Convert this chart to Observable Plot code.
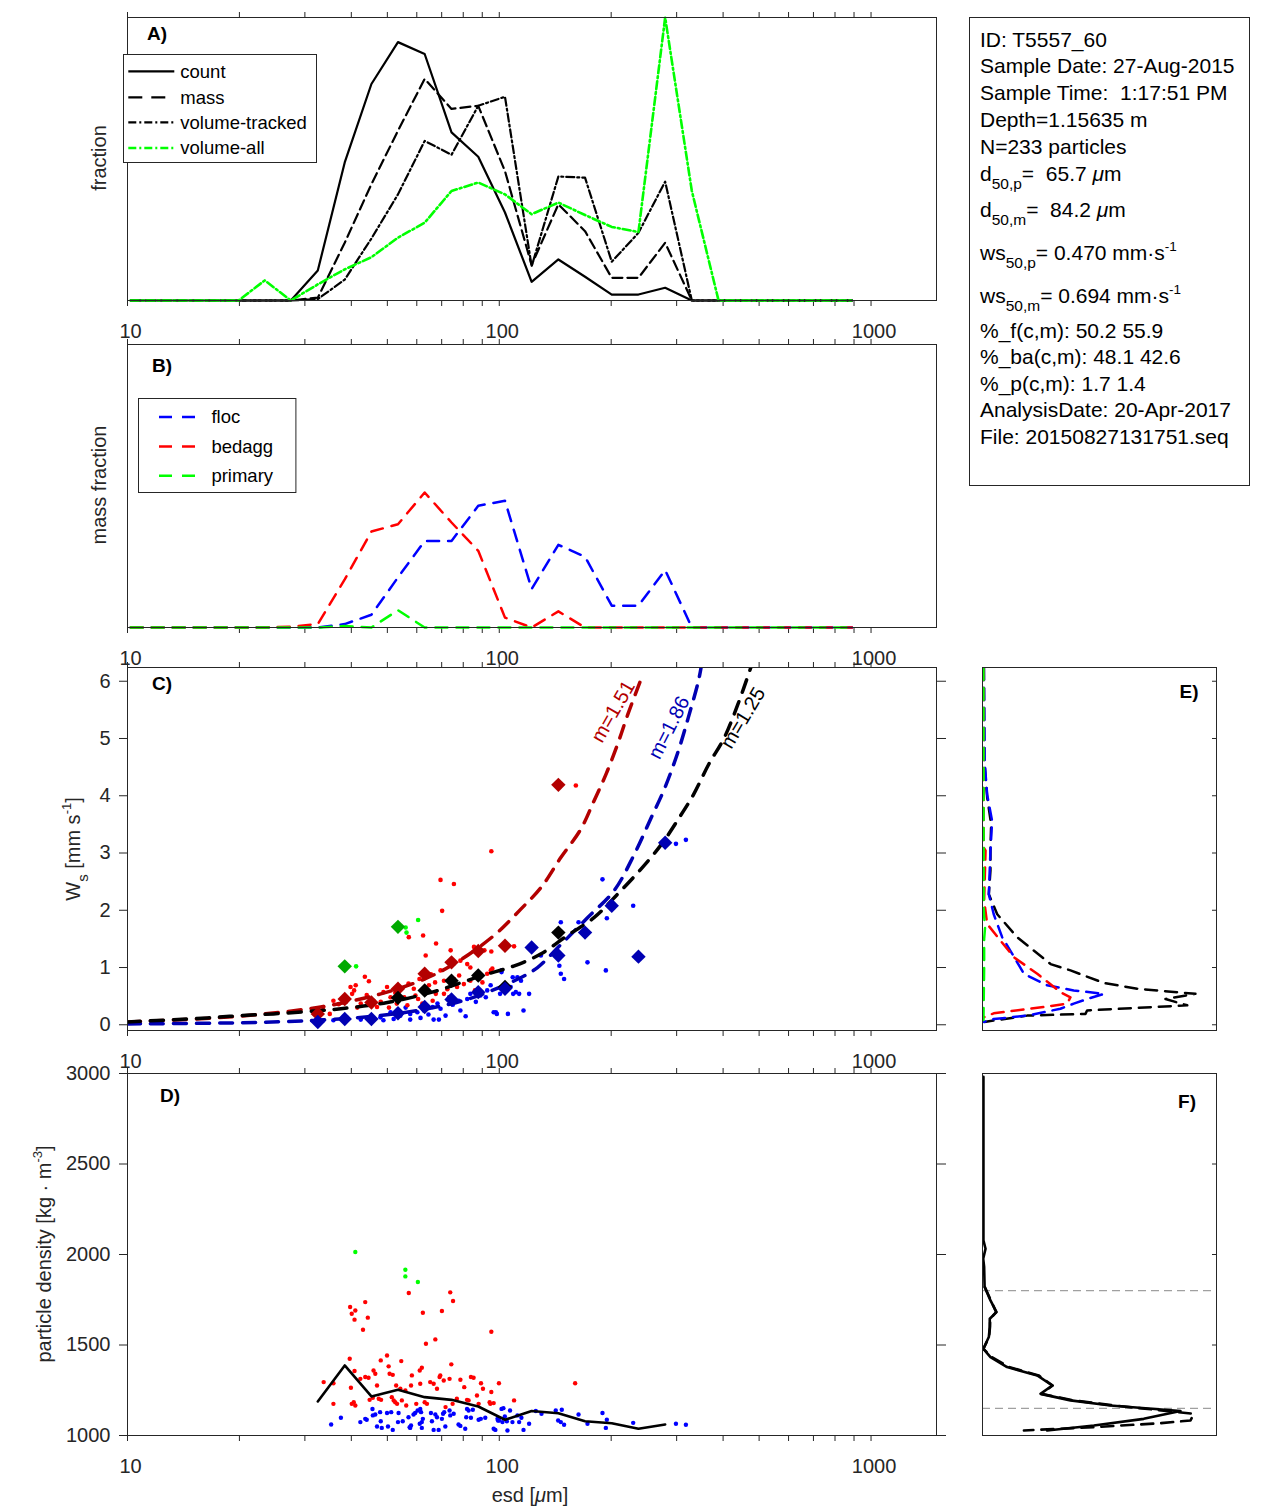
<!DOCTYPE html>
<html>
<head>
<meta charset="utf-8">
<script src="https://cdn.jsdelivr.net/npm/d3@7"></script>
<script src="https://cdn.jsdelivr.net/npm/@observablehq/plot@0.6"></script>
<style>
html,body{margin:0;padding:0;background:#fff;}
#fig{position:relative;width:1270px;height:1511px;overflow:hidden;background:#fff;font-family:"Liberation Sans",Arial,Helvetica,sans-serif;color:#262626;}
.panel{position:absolute;}
.panel svg{overflow:visible;display:block;}
.t{position:absolute;white-space:pre;line-height:24px;height:24px;font-size:21px;color:#000;}
.t sub{font-size:15.5px;vertical-align:-8px;line-height:0;}
.t sup{font-size:13.5px;vertical-align:9px;line-height:0;}
.rot{position:absolute;white-space:pre;font-size:20px;line-height:24px;color:#262626;transform:translate(-50%,-50%) rotate(-90deg);}
.rot sub{font-size:15px;vertical-align:-8px;line-height:0;}
.rot sup{font-size:13px;vertical-align:9px;line-height:0;}
.plab{position:absolute;font-weight:bold;font-size:19px;color:#000;transform:translate(-50%,-50%);white-space:pre;}
.hlab{position:absolute;font-size:20px;color:#262626;transform:translate(-50%,-50%);white-space:pre;}
#info{position:absolute;left:969px;top:17px;width:281px;height:469px;border:1px solid #262626;box-sizing:border-box;background:#fff;}
</style>
</head>
<body>
<div id="fig"></div>
<script>
// ---------------- DATA ----------------
// size-bin centres (esd, µm)
const binEsd = [10.2,12.1,14.3,16.9,19.9,23.4,27.5,32.5,38.4,45.3,53.4,63.0,74.4,87.8,103.6,122.2,144.2,170.1,200.7,236.8,279.4,329.6,388.9,458.8,541.3,638.7,753.5,889.0];
// panel A fractions (relative units)
const countFrac      = [0,0,0,0,0,0,0,0.106,0.488,0.765,0.913,0.871,0.594,0.508,0.311,0.066,0.145,0.084,0.021,0.021,0.045,0,0,0,0,0,0,0];
const massFrac       = [0,0,0,0,0,0,0,0.010,0.204,0.411,0.600,0.783,0.677,0.688,0.457,0.125,0.340,0.245,0.080,0.080,0.204,0,0,0,0,0,0,0];
const volTrackedFrac = [0,0,0,0,0,0,0,0.005,0.074,0.219,0.375,0.564,0.515,0.688,0.720,0.121,0.438,0.434,0.137,0.239,0.420,0,0,0,0,0,0,0];
const volAllFrac     = [0,0,0,0,0,0.071,0,0.057,0.110,0.153,0.222,0.275,0.387,0.417,0.375,0.305,0.346,0.302,0.260,0.242,1.000,0.387,0,0,0,0,0,0];
// panel B mass fractions
const flocMass    = [0,0,0,0,0,0,0,0,0.012,0.045,0.177,0.306,0.306,0.430,0.448,0.136,0.292,0.250,0.077,0.077,0.203,0,0,0,0,0,0,0];
const bedaggMass  = [0,0,0,0,0,0,0.003,0.012,0.170,0.339,0.365,0.477,0.371,0.271,0.035,0,0.057,0,0,0,0,0,0,0,0,0,0,0];
const primaryMass = [0,0,0,0,0,0,0,0,0.005,0,0.061,0,0,0,0,0,0,0,0,0,0,0,0,0,0,0,0,0];

// panel C: settling velocity (mm/s) per particle  [esd, ws]
const cRed = [[95.2,3.03],[69.5,2.53],[75.5,2.46],[70.2,1.99],[57.1,1.53],[62.4,1.56],[67.6,1.42],[63.4,1.21],[85.5,1.36],[91.2,1.30],[95.2,1.28],[82.0,1.06],[74.0,1.30],[75.5,0.80],[69.5,0.95],[71.0,0.77],[67.2,0.74],[64.7,0.69],[64.0,0.60],[67.5,0.54],[58.9,0.63],[59.5,0.51],[55.5,0.48],[49.9,0.66],[48.8,0.57],[51.0,0.48],[45.9,0.42],[46.9,0.31],[43.5,0.84],[44.6,0.76],[39.8,0.66],[41.1,0.69],[40.7,0.60],[40.2,0.54],[38.5,0.45],[35.8,0.42],[33.6,0.31],[35.0,0.19],[42.4,0.37],[53.0,0.37],[56.6,0.34],[62.1,0.37],[66.2,0.42],[71.0,0.54],[77.0,0.66],[80.3,0.71],[83.6,0.77],[88.1,0.80],[92.8,0.89],[83.6,1.00],[78.6,1.12],[95.8,0.98],[160.7,4.18],[109.6,1.37],[94.9,0.95],[90.1,0.74],[52.5,0.56],[60.5,0.45],[65.5,0.88],[72.5,0.62],[78.0,0.86],[86.0,0.60],[44.0,0.52],[48.0,0.40],[57.0,0.72],[50.5,0.30],[61.0,0.80],[73.5,0.48],[41.5,0.30],[37.0,0.36]];
const cBlue = [[33.6,0.08],[35.8,0.08],[42.4,0.09],[45.9,0.10],[47.9,0.13],[48.8,0.08],[52.0,0.10],[54.2,0.16],[57.6,0.19],[57.6,0.09],[60.2,0.22],[61.4,0.12],[66.6,0.09],[68.8,0.09],[66.2,0.31],[68.2,0.37],[69.5,0.28],[71.7,0.16],[73.3,0.48],[78.6,0.25],[81.2,0.15],[77.8,0.42],[82.0,0.45],[83.6,0.54],[89.0,0.51],[92.8,0.60],[94.8,0.69],[96.6,0.22],[98.5,0.19],[101.5,0.95],[105.5,0.19],[108.7,0.83],[110.8,0.57],[100.5,0.54],[62.7,0.25],[51.0,0.22],[92.0,0.48],[97.9,0.22],[101.4,0.92],[107.3,0.66],[109.0,0.54],[111.9,0.83],[113.1,0.54],[114.4,0.77],[116.2,0.25],[120.3,0.54],[129.4,1.21],[146.4,1.79],[145.1,1.03],[146.4,0.89],[149.4,0.80],[163.4,1.79],[172.7,1.09],[189.5,2.54],[194.7,1.86],[193.5,0.95],[229.2,2.08],[298.7,3.16],[317.7,3.23],[56.0,0.30],[64.5,0.18],[75.0,0.35],[86.5,0.40],[39.0,0.12]];
const cGreen = [[41.2,1.02],[56.0,1.70],[56.3,1.61],[60.5,1.83]];
// panel C: bin medians (diamonds)
const medRedEsd = [32.5,38.4,45.3,53.4,63.0,74.4,87.8,103.6,144.2];
const medRedWs  = [0.19,0.45,0.39,0.63,0.89,1.09,1.29,1.38,4.19];
const medGreenEsd = [38.4,53.4];
const medGreenWs  = [1.02,1.71];
const medBlackEsd = [53.4,63.0,74.4,87.8,103.6,144.2];
const medBlackWs  = [0.47,0.60,0.77,0.86,0.66,1.61];
const medBlueEsd = [32.5,38.4,45.3,53.4,63.0,74.4,87.8,103.6,122.2,144.2,170.1,200.7,236.8,279.4];
const medBlueWs  = [0.05,0.10,0.10,0.20,0.31,0.44,0.57,0.63,1.35,1.21,1.61,2.08,1.19,3.18];
// panel C: power-law fit curves
const fitRedEsd = [10,20,33.7,48,61.4,75.5,96.8,114.3,129.6,146.4,165.5,179.8,193.5,208.1,221.7,242.7];
const fitRedWs  = [0.05,0.15,0.32,0.54,0.77,1.06,1.56,2.02,2.40,2.92,3.41,3.91,4.37,4.90,5.42,6.10];
const fitBlueEsd = [10,20,31.7,46,63,83.5,111.6,126.7,146.4,172.7,203.5,230.9,256.4,278.9,303,322.3,343.2,349];
const fitBlueWs  = [0.015,0.035,0.076,0.15,0.27,0.46,0.79,1.0,1.40,1.87,2.34,2.98,3.62,4.14,4.78,5.36,6.0,6.24];
const fitBlackEsd = [10,16.4,20.1,24.7,31.7,37.5,50,66,89,109.8,129.6,152.5,179.8,208,240.5,273,303,333,366,402.6,438,475];
const fitBlackWs  = [0.05,0.12,0.16,0.19,0.24,0.28,0.39,0.57,0.85,1.03,1.24,1.56,1.87,2.28,2.72,3.15,3.59,4.02,4.55,5.01,5.59,6.24];
const fitLabels = [
  {esd:202.5, ws:5.47, text:"m=1.51", color:"#b30000", angle:-60},
  {esd:286.4, ws:5.19, text:"m=1.86", color:"#0000b3", angle:-63},
  {esd:452.9, ws:5.36, text:"m=1.25", color:"#000000", angle:-59}
];

// panel D: particle density (kg/m3)  [esd, rho]
const dRed = [[33.7,1295],[35.8,1289],[35.8,1175],[39.6,1424],[39.9,1264],[40.8,1356],[40.1,1175],[41.0,1166],[40.6,1184],[39.7,1710],[40.1,1673],[41.0,1691],[40.8,1640],[43.6,1737],[44.3,1651],[43.0,1584],[42.3,1313],[43.6,1323],[44.5,1319],[45.9,1359],[46.4,1341],[46.9,1276],[44.8,1197],[45.7,1208],[47.4,1203],[48.1,1197],[48.0,1415],[49.9,1442],[50.4,1382],[50.7,1341],[51.7,1335],[51.4,1212],[52.0,1194],[52.5,1184],[53.1,1175],[52.8,1276],[54.2,1258],[54.5,1411],[54.7,1194],[55.9,1249],[56.2,1166],[57.1,1787],[58.2,1332],[57.9,1276],[59.8,1175],[61.1,1359],[61.9,1374],[62.3,1678],[63.5,1507],[61.3,1286],[63.0,1184],[63.9,1175],[65.2,1295],[66.6,1286],[67.3,1531],[68.0,1258],[69.1,1323],[69.4,1332],[70.1,1688],[70.9,1304],[71.7,1157],[73.8,1791],[75.1,1743],[74.3,1393],[73.5,1313],[74.9,1175],[76.9,1203],[78.6,1308],[80.5,1267],[81.9,1197],[82.7,1194],[83.9,1323],[85.3,1319],[87.1,1221],[88.0,1175],[89.3,1289],[90.4,1258],[94.2,1184],[95.2,1573],[95.2,1240],[96.6,1179],[99.8,1289],[94.6,1175],[109.6,1194],[160.0,1289]];
const dBlue = [[35.3,1061],[37.5,1098],[42.3,1074],[43.6,1092],[44.0,1087],[45.6,1146],[45.7,1111],[46.4,1116],[46.9,1050],[47.8,1129],[48.0,1079],[48.3,1042],[49.9,1124],[50.2,1050],[51.2,1129],[51.7,1031],[53.4,1074],[53.6,1124],[55.0,1079],[57.0,1101],[57.4,1046],[57.6,1042],[57.9,1055],[58.8,1116],[59.4,1124],[60.3,1138],[61.3,1147],[61.6,1129],[61.9,1074],[62.3,1092],[61.1,1065],[61.9,1042],[65.5,1124],[65.9,1079],[66.6,1031],[67.3,1116],[68.0,1101],[68.7,1031],[70.1,1092],[70.6,1120],[71.1,1129],[71.6,1050],[73.5,1138],[73.8,1111],[75.4,1120],[77.7,1061],[78.6,1053],[81.0,1037],[81.5,1101],[81.9,1147],[82.7,1138],[83.9,1098],[84.9,1142],[88.0,1087],[91.7,1098],[96.6,1037],[97.6,1031],[99.2,1083],[89.2,1092],[98.9,1092],[99.9,1083],[101.4,1147],[102.6,1151],[102.0,1074],[103.5,1105],[104.8,1079],[105.2,1028],[106.9,1138],[108.5,1074],[111.9,1111],[113.1,1074],[114.7,1098],[116.2,1031],[120.3,1065],[125.4,1135],[129.9,1120],[141.9,1138],[144.0,1083],[146.4,1074],[147.3,1142],[149.4,1059],[163.4,1116],[172.7,1065],[189.5,1124],[194.7,1087],[193.5,1042],[229.2,1070],[298.7,1065],[317.7,1059]];
const dGreen = [[41.0,2014],[55.9,1916],[55.9,1879],[60.4,1848]];
const dMeanEsd = [32.5,38.4,45.3,53.4,63.0,74.4,87.8,103.6,122.2,144.2,170.1,200.7,236.8,279.4];
const dMeanRho = [1188,1387,1216,1253,1212,1197,1160,1087,1135,1123,1079,1068,1037,1061];

// panel E: ws distributions  [ws, fraction]
const eBlack = [[6.23,0.006],[4.60,0.008],[4.34,0.013],[3.97,0.020],[3.50,0.037],[3.10,0.034],[2.69,0.034],[2.28,0.027],[1.93,0.063],[1.53,0.148],[1.06,0.291],[0.95,0.376],[0.73,0.519],[0.63,0.661],[0.54,0.910],[0.45,0.782],[0.34,0.875],[0.25,0.447],[0.19,0.440],[0.16,0.191],[0.05,0.008]];
const eBlue  = [[6.23,0.006],[4.60,0.009],[4.02,0.020],[3.56,0.041],[3.04,0.034],[2.28,0.027],[1.93,0.048],[1.53,0.084],[1.24,0.127],[0.89,0.177],[0.69,0.276],[0.60,0.390],[0.54,0.519],[0.45,0.447],[0.37,0.390],[0.28,0.333],[0.16,0.191],[0.10,0.048],[0.05,0.006]];
const eRed   = [[6.23,0.004],[3.10,0.005],[3.04,0.013],[2.17,0.007],[1.76,0.020],[1.47,0.077],[1.18,0.134],[0.89,0.234],[0.57,0.333],[0.48,0.376],[0.37,0.362],[0.31,0.262],[0.20,0.048],[0.13,0.005]];
const eGreen = [[6.23,0.004],[2.00,0.005],[1.70,0.011],[1.50,0.007],[1.00,0.007],[0.05,0.004]];

// panel F: density distributions  [rho, fraction]
const fSolid  = [[2982,0.004],[2078,0.004],[2032,0.013],[1977,0.003],[1931,0.007],[1820,0.009],[1746,0.034],[1682,0.060],[1645,0.031],[1599,0.031],[1544,0.027],[1479,0.004],[1433,0.034],[1378,0.105],[1332,0.234],[1276,0.298],[1230,0.248],[1194,0.376],[1166,0.547],[1135,0.846],[1092,0.689],[1055,0.476],[1028,0.276]];
const fDashed = [[1820,0.010],[1746,0.036],[1682,0.058],[1645,0.033],[1599,0.032],[1544,0.028],[1479,0.004],[1433,0.040],[1378,0.115],[1332,0.240],[1276,0.300],[1230,0.252],[1194,0.390],[1166,0.560],[1120,0.903],[1083,0.889],[1068,0.761],[1046,0.476],[1028,0.177]];
const fRefRho = [1800,1150];

// axis ticks
const xTickMarks = [10,20,30,40,50,60,70,80,90,100,200,300,400,500,600,700,800,900,1000];
const xTickLabels = [10,100,1000];
const wsTicks = [0,1,2,3,4,5,6];
const rhoTicks = [1000,1500,2000,2500,3000];

// ---------------- DRAWING ----------------
const FONT = "Liberation Sans, Arial, Helvetica, sans-serif";
const AX = "#262626";
const fig = document.getElementById("fig");
const baseStyle = {background:"transparent", fontFamily:FONT, fontSize:"20px", color:AX, overflow:"visible"};

function place(svg, left, top){
  const d = document.createElement("div");
  d.className = "panel"; d.style.left = left+"px"; d.style.top = top+"px";
  d.appendChild(svg); fig.appendChild(d);
}
function xAxes(){
  return [
    Plot.axisX({anchor:"top", ticks:xTickMarks, tickSize:6, tickFormat:()=>"", label:null, stroke:AX}),
    Plot.axisX({anchor:"bottom", ticks:xTickMarks, tickSize:6, tickFormat:()=>"", label:null, stroke:AX}),
    Plot.axisX({anchor:"bottom", ticks:xTickLabels, tickSize:0, tickPadding:23, dx:3, tickFormat:d=>String(d), label:null, fontSize:20, fill:AX})
  ];
}
const rows = binEsd.map((b,i)=>({esd:b, count:countFrac[i], mass:massFrac[i], vt:volTrackedFrac[i], va:volAllFrac[i], floc:flocMass[i], bed:bedaggMass[i], prim:primaryMass[i]}));
const xLog = {type:"log", domain:[10,1500], axis:null};

// Panel A
place(Plot.plot({
  width:960, height:345, marginLeft:127, marginRight:24, marginTop:17, marginBottom:45,
  x:xLog, y:{domain:[0,1], axis:null}, style:baseStyle,
  marks:[
    ...xAxes(),
    Plot.line(rows,{x:"esd", y:"count", stroke:"#000", strokeWidth:2.2}),
    Plot.line(rows,{x:"esd", y:"mass", stroke:"#000", strokeWidth:2.2, strokeDasharray:"10,5"}),
    Plot.line(rows,{x:"esd", y:"vt", stroke:"#000", strokeWidth:2.2, strokeDasharray:"8,3,2,3"}),
    Plot.line(rows,{x:"esd", y:"va", stroke:"#00ff00", strokeWidth:2.6, strokeDasharray:"8,3,2,3"}),
    Plot.frame({stroke:AX})
  ]
}), 0, 0);

// Panel B
place(Plot.plot({
  width:960, height:345, marginLeft:127, marginRight:24, marginTop:17, marginBottom:45,
  x:xLog, y:{domain:[0,1], axis:null}, style:baseStyle,
  marks:[
    ...xAxes(),
    Plot.line(rows,{x:"esd", y:"floc", stroke:"#0000ff", strokeWidth:2.5, strokeDasharray:"12,9"}),
    Plot.line(rows,{x:"esd", y:"bed", stroke:"#ff0000", strokeWidth:2.5, strokeDasharray:"12,9"}),
    Plot.line(rows,{x:"esd", y:"prim", stroke:"#00ff00", strokeWidth:2.5, strokeDasharray:"12,9"}),
    Plot.frame({stroke:AX})
  ]
}), 0, 327);

// Panel C
const zipXY = (xs, ys) => xs.map((x,i)=>[x, ys[i]]);
place(Plot.plot({
  width:960, height:425, marginLeft:127, marginRight:24, marginTop:17, marginBottom:45,
  x:xLog, y:{domain:[-0.1,6.24], axis:null}, style:baseStyle,
  marks:[
    ...xAxes(),
    Plot.axisY({anchor:"left", ticks:wsTicks, tickSize:8, tickPadding:9, tickFormat:d=>String(d), label:null, fontSize:20, fill:AX, stroke:AX}),
    Plot.axisY({anchor:"right", ticks:wsTicks, tickSize:9, tickFormat:()=>"", label:null, stroke:AX}),
    Plot.dot(cBlue,{x:d=>d[0], y:d=>d[1], r:2.3, fill:"#0000ff", stroke:null}),
    Plot.dot(cRed,{x:d=>d[0], y:d=>d[1], r:2.3, fill:"#ff0000", stroke:null}),
    Plot.dot(cGreen,{x:d=>d[0], y:d=>d[1], r:2.3, fill:"#00ff00", stroke:null}),
    Plot.line(zipXY(fitRedEsd, fitRedWs),{x:d=>d[0], y:d=>d[1], stroke:"#b30000", strokeWidth:3.5, strokeDasharray:"13,10", curve:"catmull-rom", clip:true}),
    Plot.line(zipXY(fitBlueEsd, fitBlueWs),{x:d=>d[0], y:d=>d[1], stroke:"#0000b3", strokeWidth:3.5, strokeDasharray:"13,10", curve:"catmull-rom", clip:true}),
    Plot.line(zipXY(fitBlackEsd, fitBlackWs),{x:d=>d[0], y:d=>d[1], stroke:"#000000", strokeWidth:3.5, strokeDasharray:"13,10", curve:"catmull-rom", clip:true}),
    Plot.dot(zipXY(medRedEsd, medRedWs),{x:d=>d[0], y:d=>d[1], symbol:"diamond2", r:6.5, fill:"#b30000", stroke:null}),
    Plot.dot(zipXY(medGreenEsd, medGreenWs),{x:d=>d[0], y:d=>d[1], symbol:"diamond2", r:6.5, fill:"#00aa00", stroke:null}),
    Plot.dot(zipXY(medBlackEsd, medBlackWs),{x:d=>d[0], y:d=>d[1], symbol:"diamond2", r:6.5, fill:"#000000", stroke:null}),
    Plot.dot(zipXY(medBlueEsd, medBlueWs),{x:d=>d[0], y:d=>d[1], symbol:"diamond2", r:6.5, fill:"#0000b3", stroke:null}),
    ...fitLabels.map(l => Plot.text([l],{x:"esd", y:"ws", text:"text", rotate:l.angle, fill:l.color, fontSize:20})),
    Plot.frame({stroke:AX})
  ]
}), 0, 650);

// Panel D
place(Plot.plot({
  width:960, height:455, marginLeft:127, marginRight:24, marginTop:17, marginBottom:76,
  x:xLog, y:{domain:[1000,3000], axis:null}, style:baseStyle,
  marks:[
    ...xAxes(),
    Plot.axisY({anchor:"left", ticks:rhoTicks, tickSize:8, tickPadding:9, tickFormat:d=>String(d), label:null, fontSize:20, fill:AX, stroke:AX}),
    Plot.axisY({anchor:"right", ticks:rhoTicks, tickSize:9, tickFormat:()=>"", label:null, stroke:AX}),
    Plot.dot(dRed,{x:d=>d[0], y:d=>d[1], r:2.2, fill:"#ff0000", stroke:null}),
    Plot.dot(dBlue,{x:d=>d[0], y:d=>d[1], r:2.2, fill:"#0000ff", stroke:null}),
    Plot.dot(dGreen,{x:d=>d[0], y:d=>d[1], r:2.2, fill:"#00ff00", stroke:null}),
    Plot.line(zipXY(dMeanEsd, dMeanRho),{x:d=>d[0], y:d=>d[1], stroke:"#000", strokeWidth:2.6}),
    Plot.frame({stroke:AX})
  ]
}), 0, 1056);

// Panel E
place(Plot.plot({
  width:300, height:425, marginLeft:32, marginRight:34, marginTop:17, marginBottom:45,
  x:{domain:[0,1], axis:null}, y:{domain:[-0.1,6.24], axis:null}, style:baseStyle,
  marks:[
    Plot.tickY(wsTicks,{y:d=>d, insetLeft:230, stroke:AX}),
    Plot.line(eBlack,{x:d=>d[1], y:d=>d[0], stroke:"#000", strokeWidth:2.5, strokeDasharray:"12,8", clip:true}),
    Plot.line(eBlue,{x:d=>d[1], y:d=>d[0], stroke:"#0000ff", strokeWidth:2.5, strokeDasharray:"12,8", clip:true}),
    Plot.line(eRed,{x:d=>d[1], y:d=>d[0], stroke:"#ff0000", strokeWidth:2.5, strokeDasharray:"12,8", clip:true}),
    Plot.line(eGreen,{x:d=>d[1], y:d=>d[0], stroke:"#00ff00", strokeWidth:2.5, strokeDasharray:"12,8", clip:true}),
    Plot.frame({stroke:AX})
  ]
}), 950, 650);

// Panel F
place(Plot.plot({
  width:300, height:455, marginLeft:32, marginRight:34, marginTop:17, marginBottom:76,
  x:{domain:[0,1], axis:null}, y:{domain:[1000,3000], axis:null}, style:baseStyle,
  marks:[
    Plot.tickY(rhoTicks,{y:d=>d, insetLeft:230, stroke:AX}),
    Plot.ruleY(fRefRho,{stroke:"#a0a0a0", strokeWidth:1.3, strokeDasharray:"8,5"}),
    Plot.line(fDashed,{x:d=>d[1], y:d=>d[0], stroke:"#000", strokeWidth:2.6, strokeDasharray:"12,8", clip:true}),
    Plot.line(fSolid,{x:d=>d[1], y:d=>d[0], stroke:"#000", strokeWidth:2.6, clip:true}),
    Plot.frame({stroke:AX})
  ]
}), 950, 1056);

// ---------------- TEXT ----------------
function addDiv(cls, html, left, top){
  const d = document.createElement("div");
  d.className = cls; d.innerHTML = html;
  d.style.left = left+"px"; d.style.top = top+"px";
  fig.appendChild(d); return d;
}
// axis labels
addDiv("rot", "fraction", 99, 158);
addDiv("rot", "mass fraction", 99, 485);
addDiv("rot", "W<sub>s</sub> [mm s<sup>-1</sup>]", 73, 849);
addDiv("rot", "particle density [kg · m<sup>-3</sup>]", 44, 1254);
addDiv("hlab", "esd [<i>μ</i>m]", 530, 1495);
// panel letters
[["A)",157,34],["B)",162,366],["C)",162,684],["D)",170,1096],["E)",1189,692],["F)",1187,1102]]
  .forEach(([t,x,y])=>addDiv("plab", t, x, y));

// info box
const infoLines = [
  [40.0, "ID: T5557_60"],
  [66.0, "Sample Date: 27-Aug-2015"],
  [92.7, "Sample Time:  1:17:51 PM"],
  [120.0, "Depth=1.15635 m"],
  [146.7, "N=233 particles"],
  [174.0, "d<sub>50,p</sub>=  65.7 <i>μ</i>m"],
  [210.0, "d<sub>50,m</sub>=  84.2 <i>μ</i>m"],
  [252.7, "ws<sub>50,p</sub>= 0.470 mm·s<sup>-1</sup>"],
  [296.0, "ws<sub>50,m</sub>= 0.694 mm·s<sup>-1</sup>"],
  [330.7, "%_f(c,m): 50.2 55.9"],
  [357.3, "%_ba(c,m): 48.1 42.6"],
  [384.0, "%_p(c,m): 1.7 1.4"],
  [410.0, "AnalysisDate: 20-Apr-2017"],
  [436.7, "File: 20150827131751.seq"]
];
const box = document.createElement("div"); box.id = "info"; fig.appendChild(box);
infoLines.forEach(([y, html]) => addDiv("t", html, 980, y - 12));

// legends
const NS = "http://www.w3.org/2000/svg";
function legend(left, top, w, h, lx1, lx2, tx, items){
  const s = document.createElementNS(NS, "svg");
  s.setAttribute("width", w); s.setAttribute("height", h);
  s.style.position = "absolute"; s.style.left = left+"px"; s.style.top = top+"px"; s.style.overflow="visible";
  const r = document.createElementNS(NS, "rect");
  r.setAttribute("x",0.5); r.setAttribute("y",0.5); r.setAttribute("width",w-1); r.setAttribute("height",h-1);
  r.setAttribute("fill","#fff"); r.setAttribute("stroke","#262626"); s.appendChild(r);
  items.forEach(it=>{
    const l = document.createElementNS(NS,"line");
    l.setAttribute("x1",lx1); l.setAttribute("x2",lx2); l.setAttribute("y1",it.y); l.setAttribute("y2",it.y);
    l.setAttribute("stroke",it.color); l.setAttribute("stroke-width",it.w);
    if (it.dash) l.setAttribute("stroke-dasharray", it.dash);
    s.appendChild(l);
    const t = document.createElementNS(NS,"text");
    t.setAttribute("x",tx); t.setAttribute("y",it.y); t.setAttribute("dy","0.35em");
    t.setAttribute("font-family",FONT); t.setAttribute("font-size","18.5px"); t.setAttribute("fill","#000");
    t.textContent = it.label; s.appendChild(t);
  });
  fig.appendChild(s);
}
legend(122.7, 54.3, 194, 109, 5.3, 51.3, 57.3, [
  {y:17.4, label:"count", color:"#000", w:2.2},
  {y:43.4, label:"mass", color:"#000", w:2.2, dash:"14,9"},
  {y:68.4, label:"volume-tracked", color:"#000", w:2.2, dash:"8,3,2,3"},
  {y:94.0, label:"volume-all", color:"#00ff00", w:2.6, dash:"8,3,2,3"}
]);
legend(138.3, 398.3, 158.4, 95, 21, 58, 73.4, [
  {y:19.0, label:"floc", color:"#0000ff", w:2.5, dash:"13,10"},
  {y:48.4, label:"bedagg", color:"#ff0000", w:2.5, dash:"13,10"},
  {y:77.7, label:"primary", color:"#00ff00", w:2.5, dash:"13,10"}
]);
</script>
</body>
</html>
